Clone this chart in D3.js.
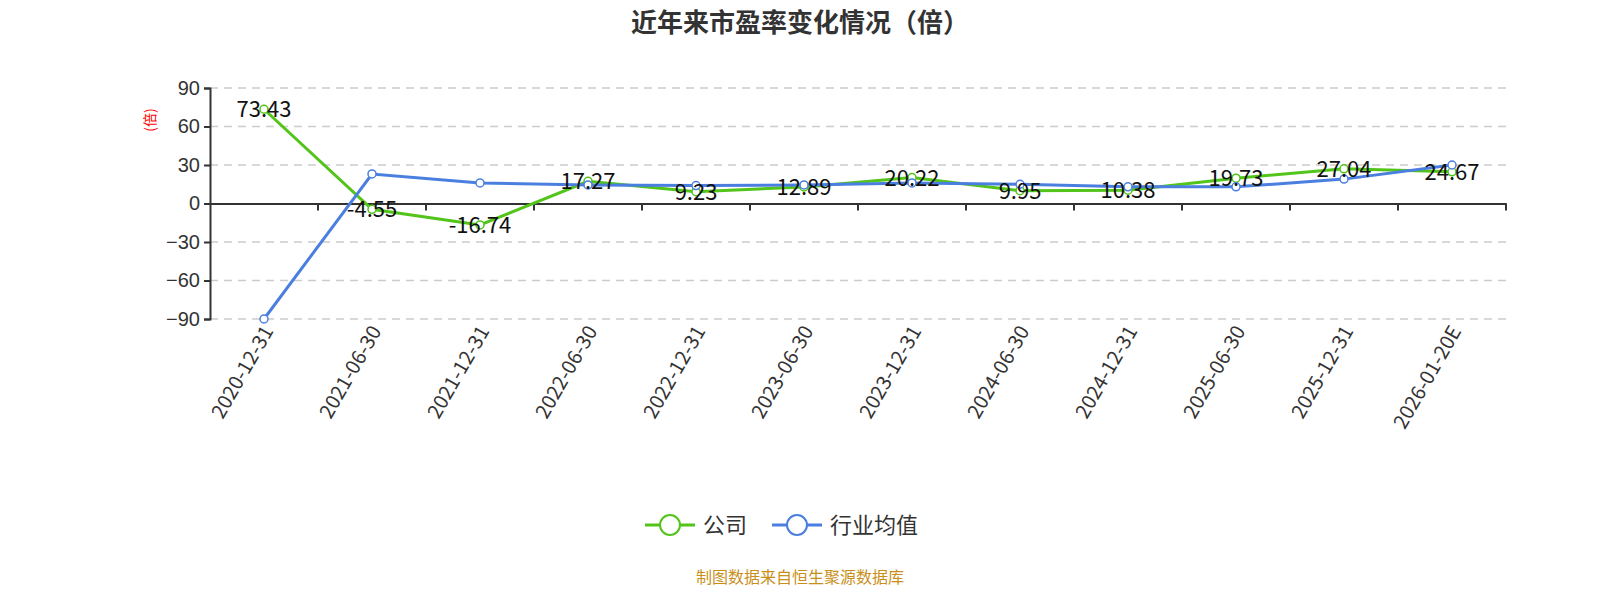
<!DOCTYPE html>
<html lang="en">
<head>
<meta charset="UTF-8">
<title>近年来市盈率变化情况</title>
<style>
  body { margin: 0; background: #fff; font-family: "Noto Sans CJK SC", "Noto Sans", sans-serif; }
  .axis text { font-size: 20px; fill: #333; }
</style>
</head>
<body>
<div id="graph"></div>
<script src="https://cdnjs.cloudflare.com/ajax/libs/d3/7.8.5/d3.min.js"></script>
<script>
var categories = ["2020-12-31", "2021-06-30", "2021-12-31", "2022-06-30", "2022-12-31", "2023-06-30",
                  "2023-12-31", "2024-06-30", "2024-12-31", "2025-06-30", "2025-12-31", "2026-01-20E"];
var companyPE = [73.43, -4.55, -16.74, 17.27, 9.23, 12.89, 20.22, 9.95, 10.38, 19.73, 27.04, 24.67];
var industryPE = [-90, 23, 16, 14.5, 14, 14.5, 16, 15, 13, 13, 19, 30];
var yTicks = [-90, -60, -30, 0, 30, 60, 90];

var W = 1600, H = 600;
var plotLeft = 210, plotRight = 1506, plotTop = 88, plotBottom = 319;

var svg = d3.select("#graph").append("svg").attr("width", W).attr("height", H);

var x = d3.scaleBand().domain(categories).range([plotLeft, plotRight]);
var y = d3.scaleLinear().domain([-90, 90]).range([plotBottom, plotTop]);

svg.append("text").attr("x", W / 2).attr("y", 32).attr("text-anchor", "middle")
  .attr("font-size", 26).attr("font-weight", "bold").attr("fill", "#333")
  .text("近年来市盈率变化情况（倍）");

// grid
svg.append("g").selectAll("line").data(yTicks.filter(d => d !== 0)).enter().append("line")
  .attr("x1", plotLeft).attr("x2", plotRight).attr("y1", d => y(d)).attr("y2", d => y(d))
  .attr("stroke", "#ccc").attr("stroke-dasharray", "8,6").attr("stroke-width", 1.5);

// y axis
var ya = svg.append("g").attr("class", "axis").attr("transform", "translate(" + plotLeft + ",0)")
  .call(d3.axisLeft(y).tickValues(yTicks).tickSize(6).tickPadding(4));
ya.select(".domain").attr("stroke", "#333").attr("stroke-width", 2);
ya.selectAll(".tick line").attr("stroke", "#333").attr("stroke-width", 2);

svg.append("text").attr("transform", "translate(155,120) rotate(-90)")
  .attr("text-anchor", "middle").attr("font-size", 14).attr("fill", "red").text("(倍)");

// x axis at zero
var xa = svg.append("g").attr("class", "axis").attr("transform", "translate(0," + y(0) + ")")
  .call(d3.axisBottom(x).tickSize(7).tickSizeOuter(0).tickPadding(8));
xa.select(".domain").attr("stroke", "#333").attr("stroke-width", 2);
xa.selectAll(".tick line").attr("stroke", "#333").attr("stroke-width", 2)
  .attr("transform", "translate(" + (x.bandwidth() / 2) + ",0)");
xa.selectAll(".tick text").remove();

// x labels below plot
svg.append("g").selectAll("text").data(categories).enter().append("text")
  .attr("transform", d => "translate(" + (x(d) + x.bandwidth() / 2 + 10) + "," + (plotBottom + 12) + ") rotate(-60)")
  .attr("text-anchor", "end").attr("font-size", 20).attr("fill", "#333").text(d => d);

var cx = (d, i) => x(categories[i]) + x.bandwidth() / 2;
var line = d3.line().x(cx).y(d => y(d));

var series = [
  { name: "公司", data: companyPE, color: "#52c41a" },
  { name: "行业均值", data: industryPE, color: "#4a7fe0" }
];

series.forEach(function (s) {
  svg.append("path").datum(s.data).attr("fill", "none").attr("stroke", s.color)
    .attr("stroke-width", 3).attr("d", line);
});
series.forEach(function (s) {
  svg.append("g").selectAll("circle").data(s.data).enter().append("circle")
    .attr("cx", cx).attr("cy", d => y(d)).attr("r", 4)
    .attr("fill", "#fff").attr("stroke", s.color).attr("stroke-width", 1.5);
});

// company labels
svg.append("g").selectAll("text").data(companyPE).enter().append("text")
  .attr("x", cx).attr("y", d => y(d) + 8).attr("text-anchor", "middle")
  .attr("font-size", 22).attr("fill", "#111").text(d => d.toFixed(2));

// legend
var lg = svg.append("g").attr("transform", "translate(0,525)");
var lx = [645, 772];
series.forEach(function (s, i) {
  lg.append("line").attr("x1", lx[i]).attr("x2", lx[i] + 50).attr("stroke", s.color).attr("stroke-width", 3);
  lg.append("circle").attr("cx", lx[i] + 25).attr("r", 10).attr("fill", "#fff").attr("stroke", s.color).attr("stroke-width", 2);
  lg.append("text").attr("x", lx[i] + 58).attr("y", 8).attr("font-size", 22).attr("fill", "#333").text(s.name);
});

svg.append("text").attr("x", W / 2).attr("y", 583).attr("text-anchor", "middle")
  .attr("font-size", 16).attr("fill", "#c8901a").text("制图数据来自恒生聚源数据库");
</script>
</body>
</html>
